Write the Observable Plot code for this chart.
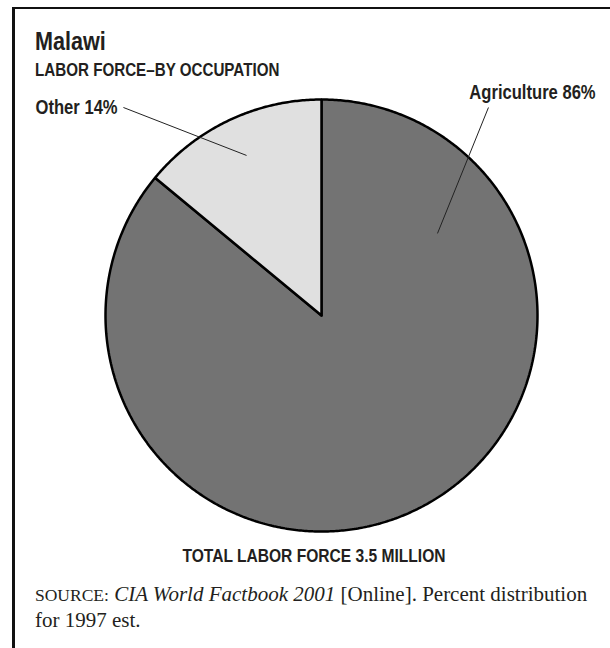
<!DOCTYPE html>
<html>
<head>
<meta charset="utf-8">
<script src="https://cdn.jsdelivr.net/npm/d3@7"></script>
<script src="https://cdn.jsdelivr.net/npm/@observablehq/plot@0.6"></script>
<style>
  html, body { margin: 0; padding: 0; background: #fff; }
  body { width: 610px; height: 648px; position: relative; overflow: hidden; color: #231f20; }
  .frame { position: absolute; left: 12px; top: 7px; right: -10px; bottom: -10px;
           border-left: 3px solid #111; border-top: 2.5px solid #111; }
  .cond { font-family: "Liberation Sans", Arial, sans-serif; font-weight: bold; white-space: nowrap;
          position: absolute; transform: scaleX(0.82); transform-origin: 0 0; }
  #title { left: 35px; top: 28px; font-size: 26px; line-height: 26px; transform: scaleX(0.83); }
  #subtitle { left: 35px; top: 60.5px; font-size: 18.5px; line-height: 18.5px; }
  #total { left: 0; width: 628px; text-align: center; top: 546px; font-size: 19px; line-height: 19px;
           transform-origin: 314px 0; }
  #source { position: absolute; left: 35px; top: 582px; width: 575px; font-family: "Liberation Serif", "Times New Roman", serif;
            font-size: 21px; line-height: 24.5px; white-space: nowrap; }
  #source .sc { font-size: 17.5px; }
  #chart { position: absolute; left: 0; top: 80px; }
</style>
</head>
<body>
<div class="frame"></div>
<div id="title" class="cond">Malawi</div>
<div id="subtitle" class="cond">LABOR FORCE–BY OCCUPATION</div>
<div id="chart"></div>
<div id="total" class="cond">TOTAL LABOR FORCE 3.5 MILLION</div>
<div id="source"><span class="sc">SOURCE:</span> <i>CIA World Factbook 2001</i> [Online]. Percent distribution<br>for 1997 est.</div>
<script>
// ---- data ----
const categories = ["Agriculture", "Other"];
const shares = [86, 14];
const sliceLabels = ["Agriculture 86%", "Other 14%"];
const sliceColors = ["#737373", "#e0e0e0"];

// ---- label layout (in pie-radius units, centre = 0,0) ----
const labelLayout = {
  textX: [1.269, -0.944],
  textY: [1.032, 0.963],
  outerX: [0.773, -0.917],
  outerY: [0.963, 0.963],
  innerX: [0.537, -0.347],
  innerY: [0.380, 0.741]
};

// pie geometry from the shares (clockwise from 12 o'clock)
const slices = d3.pie().sort(null).value(d => d)(shares);
const outline = [];
slices.forEach((s, i) => {
  const cat = categories[i];
  outline.push({cat, x: 0, y: 0});
  const n = Math.max(2, Math.ceil((s.endAngle - s.startAngle) / (Math.PI / 360)));
  for (let k = 0; k <= n; k++) {
    const a = s.startAngle + (s.endAngle - s.startAngle) * k / n;
    outline.push({cat, x: Math.sin(a), y: Math.cos(a)});
  }
  outline.push({cat, x: 0, y: 0});
});

const labels = categories.map((c, i) => ({
  cat: c,
  text: sliceLabels[i],
  tx: labelLayout.textX[i], ty: labelLayout.textY[i],
  x1: labelLayout.outerX[i], y1: labelLayout.outerY[i],
  x2: labelLayout.innerX[i], y2: labelLayout.innerY[i]
}));

const chart = Plot.plot({
  width: 610,
  height: 460,
  margin: 0,
  style: {background: "transparent", overflow: "visible"},
  x: {domain: [-1, 1], range: [105, 537], axis: null},
  y: {domain: [-1, 1], range: [451, 19], axis: null},
  color: {type: "ordinal", domain: categories, range: sliceColors},
  marks: [
    Plot.line(outline, {x: "x", y: "y", z: "cat", fill: "cat", stroke: "#000", strokeWidth: 2.5,
                        strokeLinejoin: "miter", curve: "linear"}),
    Plot.link(labels, {x1: "x1", y1: "y1", x2: "x2", y2: "y2", stroke: "#222", strokeWidth: 1}),
    Plot.text(labels, {x: "tx", y: "ty", text: "text", textAnchor: "end", fontSize: 20,
                       fontWeight: "bold", fontFamily: '"Liberation Sans", Arial, sans-serif', fill: "#231f20"})
  ]
});
// condense the label glyphs horizontally (narrow bold face)
chart.querySelectorAll("text").forEach(t => {
  const tr = t.getAttribute("transform") || "";
  t.setAttribute("transform", tr + " scale(0.83,1)");
});
document.getElementById("chart").appendChild(chart);
</script>
</body>
</html>
